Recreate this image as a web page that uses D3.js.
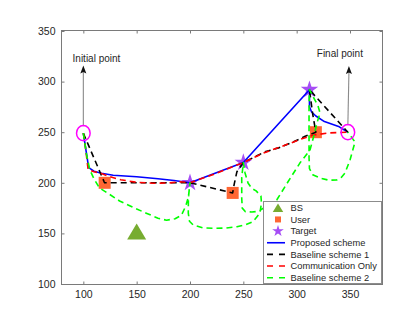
<!DOCTYPE html>
<html>
<head>
<meta charset="utf-8">
<script src="https://d3js.org/d3.v7.min.js"></script>
<style>
  body { margin: 0; background: #fff; }
  text { font-family: "Liberation Sans", Arial, Helvetica, sans-serif; }
</style>
</head>
<body>
<script>

// ---- data ----
var xTicks = [100, 150, 200, 250, 300, 350];
var yTicks = [100, 150, 200, 250, 300, 350];

var bsPoints = [[150, 152]];
var userPoints = [[120, 200], [240, 190], [318, 250]];
var targetPoints = [[200, 200], [250, 220], [312, 292]];
var initialPoint = [100, 249];
var finalPoint = [348, 250];

var proposed = [[100, 249], [105, 215], [110, 211.5], [117, 209.4], [128, 207.5], [150, 206],
  [170, 204], [185, 202.2], [200, 200], [250, 220], [312, 292], [312, 275], [314, 270],
  [318, 266], [326, 260.5], [340, 255.3], [348, 250]];

var baseline1 = [[100, 249], [119.5, 201], [120, 200], [200, 200], [240, 190], [241.5, 199],
  [244, 211], [250, 220], [270, 230.5], [283, 234.5], [295, 239.5], [308, 246], [318, 250],
  [315, 268], [312, 292], [348, 250]];

var commOnly = [[100, 249], [102, 235], [104.5, 213], [110, 211], [116, 209.5], [125, 206],
  [135, 203], [150, 200.5], [166, 199.6], [180, 199.8], [191, 201], [200, 200], [225, 209.5],
  [250, 220], [269, 229.5], [290, 237.5], [305, 243.5], [315, 247], [330, 249.3], [348, 250]];

var baseline2 = [[100, 249], [103, 228], [106, 213], [110, 204], [115, 195], [124, 189],
  [134, 182], [146, 176], [159, 170], [170, 165], [178, 163], [186, 164.5], [192, 168],
  [196, 177], [198.5, 186], [200, 200],
  [198.5, 185], [198.4, 170], [199.5, 162], [203, 158.3], [212, 155.6], [222, 155], [234, 155.3],
  [244, 156.6], [252, 158.5], [259, 161.6], [265.5, 170], [267, 180], [266.5, 187],
  [262, 192], [257.8, 194.6], [254.4, 199.8], [251.6, 209.7], [250, 220],
  [248.5, 205], [248.5, 185], [249, 175], [252, 171.4], [258, 171.2], [264, 171.8],
  [272, 177], [281.3, 183], [291.9, 201], [303, 219.5], [312.5, 232.4], [316.5, 248],
  [319, 259], [321.9, 269], [320, 276], [316, 284], [312, 292],
  [311.6, 275], [311.6, 250], [311.6, 225], [312, 214], [315, 208], [321.9, 204.7],
  [330, 202.6], [337.5, 202.8], [342, 205.5], [345.3, 209.7], [350, 222.5], [354.7, 240.3],
  [348, 250]];

var seriesNames = ["Proposed scheme", "Baseline scheme 1", "Communication Only", "Baseline scheme 2"];
var markerNames = ["BS", "User", "Target"];

// annotation: [label, point, arrow tip, text position]
var annotations = [
  ["Initial point", initialPoint, [100, 316], [112.3, 319.3]],
  ["Final point", finalPoint, [349, 315.5], [340.5, 324.3]]
];

// ---- layout ----
var W = 414, H = 311;
var svg = d3.select("body").append("svg")
  .attr("width", W)
  .attr("height", H);

svg.append("rect").attr("width", W).attr("height", H).attr("fill", "#fff");

var x = d3.scaleLinear().domain([80, 380]).range([62, 382]);
var y = d3.scaleLinear().domain([100, 350]).range([284, 31]);

var axisColor = "#7a7a7a";
var labelColor = "#262626";

// axes
var gx = svg.append("g").attr("transform", "translate(0,284.5)")
  .call(d3.axisBottom(x).tickValues(xTicks).tickSizeInner(-3).tickSizeOuter(0).tickPadding(6));
var gy = svg.append("g").attr("transform", "translate(61.5,0)")
  .call(d3.axisLeft(y).tickValues(yTicks).tickSizeInner(-3).tickSizeOuter(0).tickPadding(6));
var gt = svg.append("g").attr("transform", "translate(0,30.5)")
  .call(d3.axisTop(x).tickValues(xTicks).tickSizeInner(-3).tickSizeOuter(0).tickFormat(""));
var gr = svg.append("g").attr("transform", "translate(382.5,0)")
  .call(d3.axisRight(y).tickValues(yTicks).tickSizeInner(-3).tickSizeOuter(0).tickFormat(""));

[gx, gy, gt, gr].forEach(function(g) {
  g.select(".domain").remove();
  g.selectAll(".tick line").attr("stroke", axisColor);
  g.selectAll("text").attr("fill", labelColor).style("font-size", "10.5px")
    .style("font-family", "'Liberation Sans', Arial, sans-serif");
});

svg.append("rect")
  .attr("x", 61.5).attr("y", 30.5)
  .attr("width", 321).attr("height", 254)
  .attr("fill", "none")
  .attr("stroke", axisColor);

// ---- markers ----
var bsColor = "#77AC30", userColor = "#FF6633", targetColor = "#A64DF5";

function triPath(cx, cy, w, h) {
  return "M" + cx + "," + (cy - h / 2) + "L" + (cx + w / 2) + "," + (cy + h / 2) +
    "L" + (cx - w / 2) + "," + (cy + h / 2) + "Z";
}

svg.selectAll(".bs")
  .data(bsPoints)
  .enter()
  .append("path")
  .attr("d", function(d) { return triPath(x(d[0]), y(d[1]), 19, 16); })
  .attr("fill", bsColor);

svg.selectAll(".user")
  .data(userPoints)
  .enter()
  .append("rect")
  .attr("x", function(d) { return x(d[0]) - 6; })
  .attr("y", function(d) { return y(d[1]) - 6; })
  .attr("width", 12)
  .attr("height", 12)
  .attr("fill", userColor);

var star = d3.symbol().type(d3.symbolStar);
svg.selectAll(".target")
  .data(targetPoints)
  .enter()
  .append("path")
  .attr("d", star.size(95)())
  .attr("transform", function(d) { return "translate(" + x(d[0]) + "," + y(d[1]) + ")"; })
  .attr("fill", targetColor);

// ---- trajectories ----
var line = d3.line()
  .x(function(d) { return x(d[0]); })
  .y(function(d) { return y(d[1]); });

var seriesData = [proposed, baseline1, commOnly, baseline2];
var seriesColor = ["#0000FF", "#000000", "#FF0000", "#00FF00"];
var seriesDash = [null, "6,4", "6,4", "6,4"];

svg.selectAll(".traj")
  .data(seriesData)
  .enter()
  .append("path")
  .attr("d", function(d) { return line(d); })
  .attr("fill", "none")
  .attr("stroke", function(d, i) { return seriesColor[i]; })
  .attr("stroke-width", 1.6)
  .attr("stroke-dasharray", function(d, i) { return seriesDash[i]; })
  .attr("stroke-linejoin", "round");

// ---- start / end annotations ----
annotations.forEach(function(a) {
  var px = x(a[1][0]), py = y(a[1][1]);
  var tx = x(a[2][0]), ty = y(a[2][1]);
  svg.append("line")
    .attr("x1", px).attr("y1", py - 7)
    .attr("x2", tx).attr("y2", ty + 6)
    .attr("stroke", "#8a8a8a")
    .attr("stroke-width", 1.1);
  svg.append("path")
    .attr("d", "M" + tx + "," + ty + "L" + (tx + 3) + "," + (ty + 8) + "L" + tx + "," + (ty + 6.5) +
      "L" + (tx - 3) + "," + (ty + 8) + "Z")
    .attr("fill", "#111");
  svg.append("text")
    .attr("x", x(a[3][0]))
    .attr("y", y(a[3][1]))
    .attr("text-anchor", "middle")
    .attr("fill", labelColor)
    .style("font-size", "10px")
    .text(a[0]);
  svg.append("ellipse")
    .attr("cx", px).attr("cy", py)
    .attr("rx", 6.8).attr("ry", 7.6)
    .attr("fill", "none")
    .attr("stroke", "#FF00FF")
    .attr("stroke-width", 1.5);
});

// ---- legend ----
var lg = svg.append("g");
lg.append("rect")
  .attr("x", 263.5).attr("y", 201.5)
  .attr("width", 118).attr("height", 82)
  .attr("fill", "#fff")
  .attr("stroke", "#8c8c8c");

var legendItems = markerNames.concat(seriesNames);
var rowY = function(i) { return 207.8 + i * 11.65; };

legendItems.forEach(function(name, i) {
  var cy = rowY(i);
  if (i == 0) {
    lg.append("path").attr("d", triPath(278, cy, 10.5, 8.5)).attr("fill", bsColor);
  } else if (i == 1) {
    lg.append("rect").attr("x", 275).attr("y", cy - 3).attr("width", 6).attr("height", 6)
      .attr("fill", userColor);
  } else if (i == 2) {
    lg.append("path").attr("d", star.size(42)())
      .attr("transform", "translate(278," + cy + ")")
      .attr("fill", targetColor);
  } else {
    var k = i - 3;
    lg.append("line")
      .attr("x1", 267).attr("x2", 285)
      .attr("y1", cy).attr("y2", cy)
      .attr("stroke", seriesColor[k])
      .attr("stroke-width", 1.6)
      .attr("stroke-dasharray", seriesDash[k] ? "6,6" : null);
  }
  lg.append("text")
    .attr("x", 290.5)
    .attr("y", cy)
    .attr("dy", "0.35em")
    .attr("fill", labelColor)
    .style("font-size", "9.3px")
    .text(name);
});

</script>
</body>
</html>
